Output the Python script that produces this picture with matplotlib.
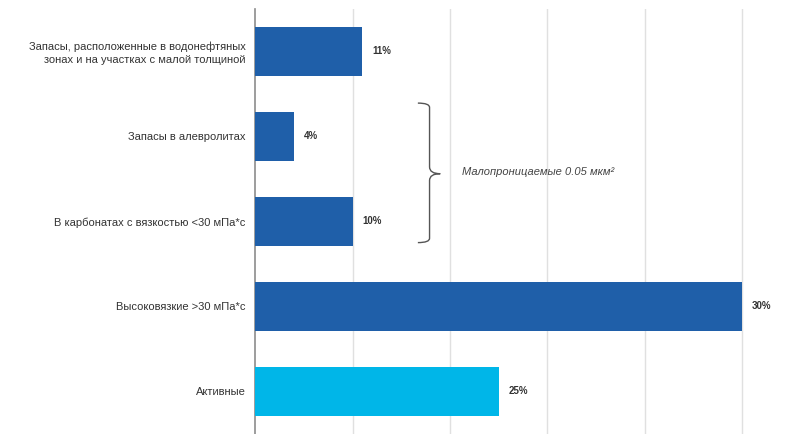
import matplotlib
matplotlib.use("Agg")
import matplotlib.pyplot as plt
from matplotlib.path import Path
from matplotlib.patches import PathPatch

# --- Data ---------------------------------------------------------------
categories = [
    "Запасы, расположенные в водонефтяных\nзонах и на участках с малой толщиной",
    "Запасы в алевролитах",
    "В карбонатах с вязкостью <30 мПа*с",
    "Высоковязкие >30 мПа*с",
    "Активные",
]
# bar lengths as drawn in the picture (the 30% bar runs to the 50 gridline)
bar_lengths = [11, 4, 10, 50, 25]
value_labels = ["11%", "4%", "10%", "30%", "25%"]
bar_colors = ["#1f5fa9", "#1f5fa9", "#1f5fa9", "#1f5fa9", "#00b6e8"]
brace_text = "Малопроницаемые 0.05 мкм²"

plt.rcParams["font.family"] = ["Liberation Sans", "DejaVu Sans"]

fig = plt.figure(figsize=(7.9, 4.34), dpi=100)
ax = fig.add_axes([0.323, 0.0, 0.677, 0.98])

y = list(range(len(categories)))
ax.barh(y, bar_lengths, height=0.58, color=bar_colors, zorder=3)

for yi, length, lab in zip(y, bar_lengths, value_labels):
    ax.text(length + 1.0, yi, lab, va="center", ha="left",
            fontsize=7, fontweight="bold", color="#333333")

ax.set_ylim(4.5, -0.5)
ax.set_xlim(0, 54.9)
ax.set_xticks([10, 20, 30, 40, 50])
ax.set_xticklabels([])
ax.tick_params(axis="both", length=0)
ax.set_yticks(y)
ax.set_yticklabels(categories, fontsize=8, color="#333333", linespacing=1.3)
ax.tick_params(axis="y", pad=7)
ax.grid(axis="x", color="#e0e0e0", linewidth=1.0, zorder=0)

for side in ["top", "right", "bottom"]:
    ax.spines[side].set_visible(False)
ax.spines["left"].set_color("#8c8c8c")
ax.spines["left"].set_linewidth(1.2)

# curly brace grouping the low-permeability rows
top, mid, bot = 0.61, 1.44, 2.25
x_in, x_line, x_tip = 16.7, 17.9, 19.0
verts = [
    (x_in, top), (x_line, top), (x_line, top + 0.05),
    (x_line, mid - 0.08), (x_line, mid), (x_tip, mid),
    (x_line, mid), (x_line, mid + 0.08),
    (x_line, bot - 0.05), (x_line, bot), (x_in, bot),
]
codes = [Path.MOVETO, Path.CURVE3, Path.CURVE3,
         Path.LINETO, Path.CURVE3, Path.CURVE3,
         Path.CURVE3, Path.CURVE3,
         Path.LINETO, Path.CURVE3, Path.CURVE3]
ax.add_patch(PathPatch(Path(verts, codes), fill=False,
                       edgecolor="#555555", linewidth=1.0, zorder=4))
ax.text(21.2, mid - 0.02, brace_text, fontsize=8, style="italic",
        color="#444444", va="center", ha="left")

fig.savefig("out.png", dpi=100)
